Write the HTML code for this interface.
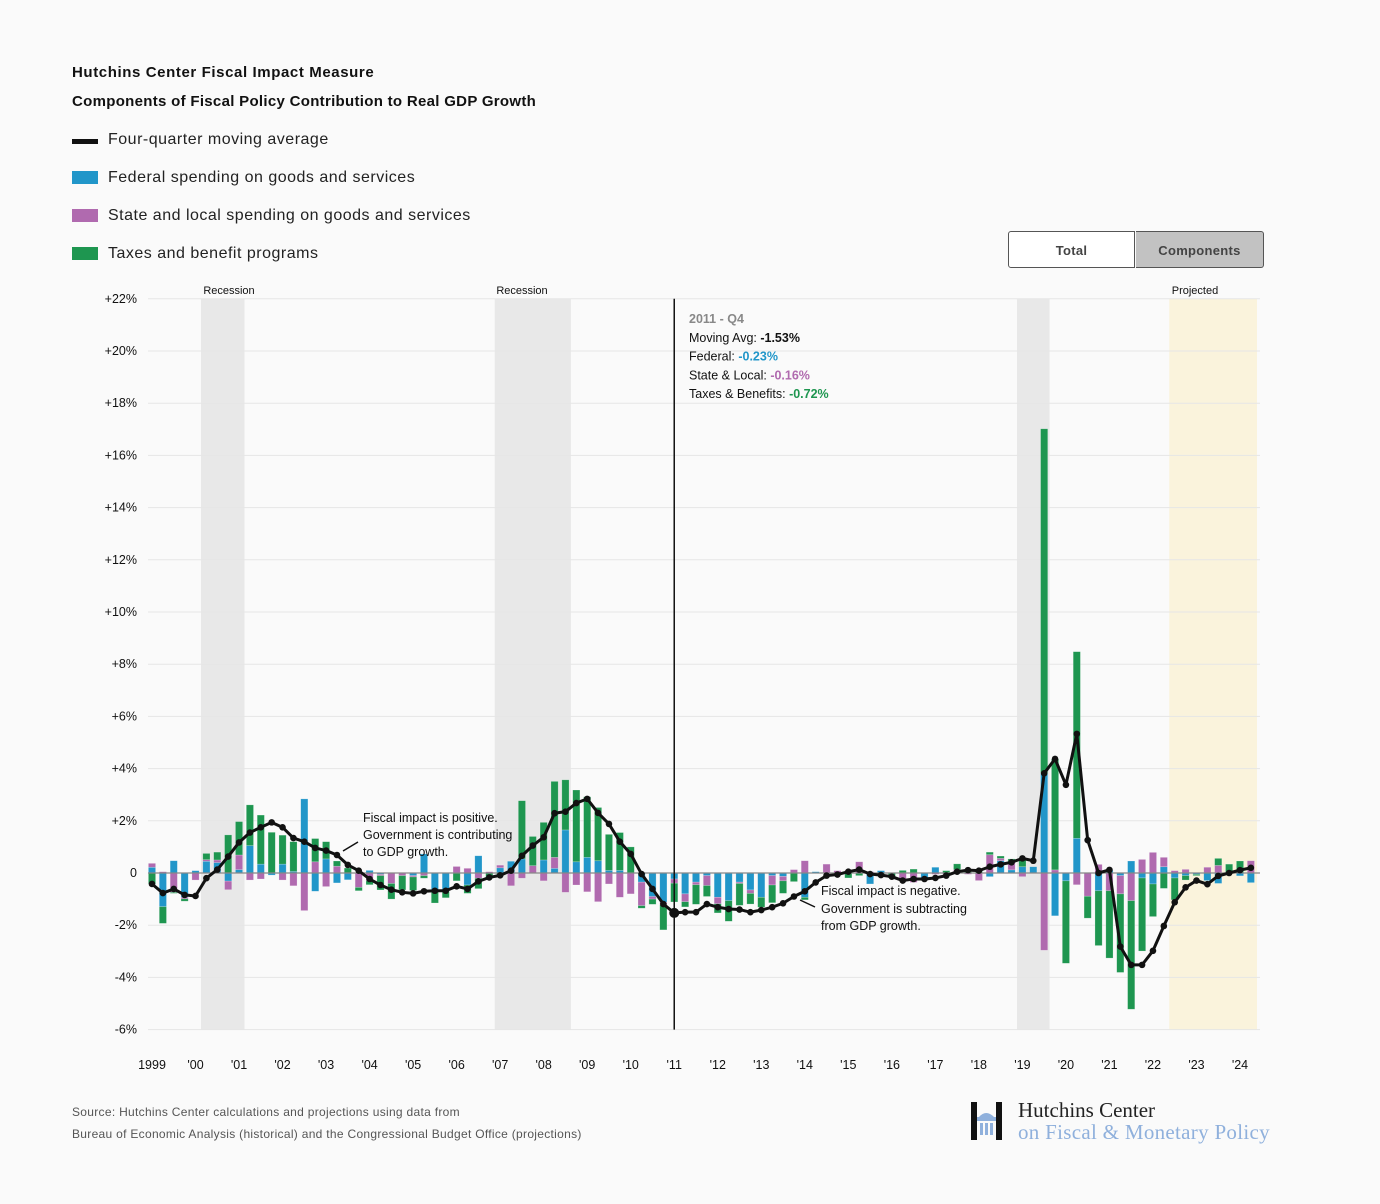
<!DOCTYPE html>
<html><head><meta charset="utf-8">
<style>
body{margin:0;background:#fafafa;font-family:"Liberation Sans",sans-serif;}
#wrap{position:relative;width:1380px;height:1204px;background:#fafafa;overflow:hidden;}
.t{position:absolute;white-space:nowrap;color:#111;}
.btn{position:absolute;top:231px;height:37px;width:127px;text-align:center;line-height:37px;font-weight:bold;font-size:13px;color:#444;border:1px solid #555;box-sizing:border-box;letter-spacing:0.3px;}
</style></head><body>
<div id="wrap">
<div class="t" style="left:72px;top:64px;font-size:15px;font-weight:bold;letter-spacing:0.6px">Hutchins Center Fiscal Impact Measure</div>
<div class="t" style="left:72px;top:93px;font-size:15px;font-weight:bold;letter-spacing:0.3px">Components of Fiscal Policy Contribution to Real GDP Growth</div>

<div><div style="position:absolute;left:72px;top:139px;width:26px;height:5px;background:#111"></div><div class="t" style="left:108px;top:131px;font-size:16px;color:#222;letter-spacing:0.5px">Four-quarter moving average</div></div>
<div><div style="position:absolute;left:72px;top:171px;width:26px;height:13px;background:#2196c9"></div><div class="t" style="left:108px;top:169px;font-size:16px;color:#222;letter-spacing:0.5px">Federal spending on goods and services</div></div>
<div><div style="position:absolute;left:72px;top:209px;width:26px;height:13px;background:#b06aaf"></div><div class="t" style="left:108px;top:207px;font-size:16px;color:#222;letter-spacing:0.5px">State and local spending on goods and services</div></div>
<div><div style="position:absolute;left:72px;top:247px;width:26px;height:13px;background:#1e9650"></div><div class="t" style="left:108px;top:245px;font-size:16px;color:#222;letter-spacing:0.5px">Taxes and benefit programs</div></div>

<div class="btn" style="left:1008px;background:#fff;border-radius:3px 0 0 3px">Total</div>
<div class="btn" style="left:1136px;background:#c2c2c2;border-left:none;border-radius:0 3px 3px 0;width:128px">Components</div>

<svg id="chart" width="1380" height="1204" style="position:absolute;left:0;top:0"></svg>

<div class="t" style="left:72px;top:1105px;font-size:12px;color:#555;letter-spacing:0.3px">Source: Hutchins Center calculations and projections using data from</div>
<div class="t" style="left:72px;top:1127px;font-size:12px;color:#555;letter-spacing:0.3px">Bureau of Economic Analysis (historical) and the Congressional Budget Office (projections)</div>

<div>
<svg style="position:absolute;left:970px;top:1101px" width="34" height="40">
<rect x="1" y="1" width="6" height="38" fill="#111"/><rect x="26" y="1" width="6" height="38" fill="#111"/>
<rect x="7" y="16" width="19" height="4" fill="#8fb0dc"/><path d="M9 16 Q16 8 24 16Z" fill="#8fb0dc"/>
<rect x="10" y="22" width="3" height="12" fill="#8fb0dc"/><rect x="15" y="22" width="3" height="12" fill="#8fb0dc"/><rect x="20" y="22" width="3" height="12" fill="#8fb0dc"/>
</svg>
<div class="t" style="left:1018px;top:1098px;font-family:'Liberation Serif',serif;font-size:21px;color:#222">Hutchins Center</div>
<div class="t" style="left:1018px;top:1120px;font-family:'Liberation Serif',serif;font-size:21px;color:#8fb0dc;letter-spacing:0.3px">on Fiscal &amp; Monetary Policy</div>
</div>
</div>
<script>
const fed=[.22,-1.29,.47,-.93,.09,.45,.4,-.31,.13,1.05,.34,-.08,.34,.06,2.84,-.7,.54,-.38,-.26,0,.1,-.05,0,0,-.1,.73,-.66,-.7,0,-.46,.66,0,.2,.45,.54,0,.5,.18,1.65,.43,.6,.47,.1,.1,0,-.35,-.9,-1.12,-.23,-.8,-.35,-.1,-.93,-1.06,-.35,-.65,-.93,-.1,-.13,0,-.93,.05,0,0,0,0,-.42,.09,0,0,0,-.23,.22,0,0,0,0,-.14,.47,.12,.24,.24,3.82,-1.64,-.3,1.33,0,-.68,.1,-.1,.46,-.19,-.42,.24,-.19,-.1,-.05,-.29,-.4,0,-.11,-.37];
const stateLocal=[.15,.05,-.74,-.06,-.27,.06,.1,-.33,.56,-.27,-.23,0,-.27,-.49,-1.44,.43,-.52,.26,0,-.55,-.3,-.05,-.4,-.1,-.05,-.1,0,0,.25,.18,-.2,.05,.1,-.49,-.2,.28,-.3,.42,-.74,-.46,-.72,-1.1,-.42,-.93,-.8,-.9,-.1,-.1,-.16,-.3,-.1,-.38,-.25,0,-.05,-.13,0,-.36,-.17,.13,.47,0,.34,.09,.1,.43,.05,0,0,-.3,-.36,0,-.05,-.05,.13,-.05,-.29,.7,.09,.28,-.14,0,-2.96,.12,0,-.45,-.89,.33,-.68,-.7,-1.06,.52,.79,.36,.09,.14,0,.22,.29,0,0,.47];
const taxes=[-.42,-.64,-.04,-.09,0,.24,.3,1.46,1.28,1.56,1.88,1.56,1.11,1.14,0,.89,.66,.2,.19,-.13,-.15,-.55,-.6,-.55,-.52,-.1,-.49,-.25,-.3,-.32,-.4,-.15,-.1,0,2.23,1.12,1.44,2.91,1.92,2.75,2.32,2.04,1.38,1.45,1.0,-.1,-.2,-.96,-.72,-.2,-.75,-.42,-.35,-.79,-.84,-.41,-.38,-.68,-.48,-.33,-.1,0,0,-.05,-.19,-.1,0,-.1,-.19,.1,.15,0,0,.09,.22,.05,.1,.1,.09,.14,.25,0,13.2,4.25,-3.16,7.15,-.84,-2.1,-2.58,-3.01,-4.16,-2.8,-1.25,-.59,-.84,-.17,-.05,0,.27,.34,.46,0];
const movingAvg=[-.42,-.77,-.61,-.84,-.88,-.2,.13,.63,1.17,1.55,1.75,1.94,1.75,1.34,1.2,.96,.86,.69,.31,.09,-.23,-.46,-.64,-.74,-.78,-.7,-.68,-.68,-.51,-.61,-.32,-.17,-.09,.09,.66,1.05,1.37,2.29,2.35,2.68,2.84,2.3,1.88,1.2,.73,-.04,-.61,-1.19,-1.53,-1.5,-1.5,-1.19,-1.31,-1.38,-1.4,-1.5,-1.42,-1.31,-1.16,-.9,-.7,-.36,-.1,-.06,.05,.13,-.04,-.08,-.14,-.29,-.23,-.23,-.19,-.1,.05,.11,.09,.24,.33,.41,.56,.47,3.82,4.37,3.38,5.33,1.26,0,.12,-2.82,-3.52,-3.52,-2.98,-2.03,-1.12,-.55,-.29,-.43,-.11,0,.11,.2];
const yTicks=[-6,-4,-2,0,2,4,6,8,10,12,14,16,18,20,22];
const xLabels=["1999","'00","'01","'02","'03","'04","'05","'06","'07","'08","'09","'10","'11","'12","'13","'14","'15","'16","'17","'18","'19","'20","'21","'22","'23","'24"];
const recessions=[[4.5,8.5],[31.5,38.5],[79.5,82.5]];
const projectedStart=93.5, hoverIndex=48;

const NS="http://www.w3.org/2000/svg";
const svg=document.getElementById('chart');
const X0=152, DX=10.88, Y0=873, DY=26.1;
const xs=i=>X0+i*DX;
const ys=v=>Y0-v*DY;
function mk(tag,attrs,parent){const e=document.createElementNS(NS,tag);for(const k in attrs)e.setAttribute(k,attrs[k]);(parent||svg).appendChild(e);return e;}
function txt(s,attrs){const e=mk('text',attrs);e.textContent=s;return e;}

recessions.forEach(r=>{
  const e=mk('rect',{x:xs(r[0]),y:ys(22),width:xs(r[1])-xs(r[0]),height:ys(-6)-ys(22),fill:'#e8e8e8'});
  
  
});
const pj=mk('rect',{x:xs(projectedStart),y:ys(22),width:1257-xs(projectedStart),height:ys(-6)-ys(22),fill:'#faf3dc'});


[["Recession",229],["Recession",522],["Projected",1195]].forEach(p=>{
  const e=txt(p[0],{x:p[1],y:294,'font-size':11,'text-anchor':'middle',fill:'#111'});
  
  
});
yTicks.forEach(v=>{
  const g=mk('line',{x1:148,x2:1260,y1:ys(v),y2:ys(v),stroke:'#e6e6e6','stroke-width':1});
  
  
  const l=txt(v===0?'0':(v>0?'+':'')+v+'%',{x:137,y:ys(v)+4,'font-size':12.5,'text-anchor':'end',fill:'#111'});
  
  
});
xLabels.forEach((s,k)=>{
  const l=txt(s,{x:xs(k*4),y:1069,'font-size':12.5,'text-anchor':'middle',fill:'#111'});
  
  
});
const cols=['#2196c9','#b06aaf','#1e9650'];
const series=[fed,stateLocal,taxes];
const names=['bar-federal','bar-state-local','bar-taxes'];
for(let i=0;i<fed.length;i++){
  let pos=0,neg=0;
  for(let s=0;s<3;s++){
    const v=series[s][i]; if(!v) continue;
    let a,b; if(v>0){a=pos;b=pos+v;pos=b;}else{a=neg;b=neg+v;neg=b;}
    const r=mk('rect',{x:xs(i)-3.6,width:7.2,y:Math.min(ys(a),ys(b)),height:Math.abs(ys(a)-ys(b)),fill:cols[s],stroke:'rgba(255,255,255,0.35)','stroke-width':0.6});
    
    
  }
}
const z=mk('line',{x1:148,x2:1260,y1:Y0,y2:Y0,stroke:'#888','stroke-width':1.2});


const hl=mk('line',{x1:xs(hoverIndex),x2:xs(hoverIndex),y1:ys(22),y2:ys(-6),stroke:'#111','stroke-width':1.5});


const path=mk('polyline',{points:movingAvg.map((v,i)=>xs(i)+','+ys(v)).join(' '),fill:'none',stroke:'#111','stroke-width':3,'stroke-linejoin':'round'});


movingAvg.forEach((v,i)=>{
  const c=mk('circle',{cx:xs(i),cy:ys(v),r:i===hoverIndex?5:3.3,fill:'#111'});
  
  
});
const tt=[["2011 - Q4","",'#888',true],["Moving Avg: ","-1.53%",'#111'],["Federal: ","-0.23%",'#2196c9'],["State & Local: ","-0.16%",'#b06aaf'],["Taxes & Benefits: ","-0.72%",'#1e9650']];
tt.forEach((r,k)=>{
  const t=mk('text',{x:689,y:323+k*18.8,'font-size':12.5,fill:r[3]?'#888':'#111','font-weight':r[3]?'bold':'normal'});
  
  
  t.appendChild(document.createTextNode(r[0]));
  if(r[1]){const sp=mk('tspan',{fill:r[2],'font-weight':'bold'},t);sp.textContent=r[1];}
});
[[363,822,"Fiscal impact is positive."],[363,839,"Government is contributing"],[363,856,"to GDP growth."],[821,895,"Fiscal impact is negative."],[821,913,"Government is subtracting"],[821,930,"from GDP growth."]].forEach(a=>{
  const t=txt(a[2],{x:a[0],y:a[1],'font-size':12.5,fill:'#111'});
  
  
});
const a1=mk('line',{x1:343,y1:851,x2:358,y2:842,stroke:'#111','stroke-width':1.5});


const a2=mk('line',{x1:800,y1:900,x2:815,y2:907,stroke:'#111','stroke-width':1.5});


</script>
</body></html>
